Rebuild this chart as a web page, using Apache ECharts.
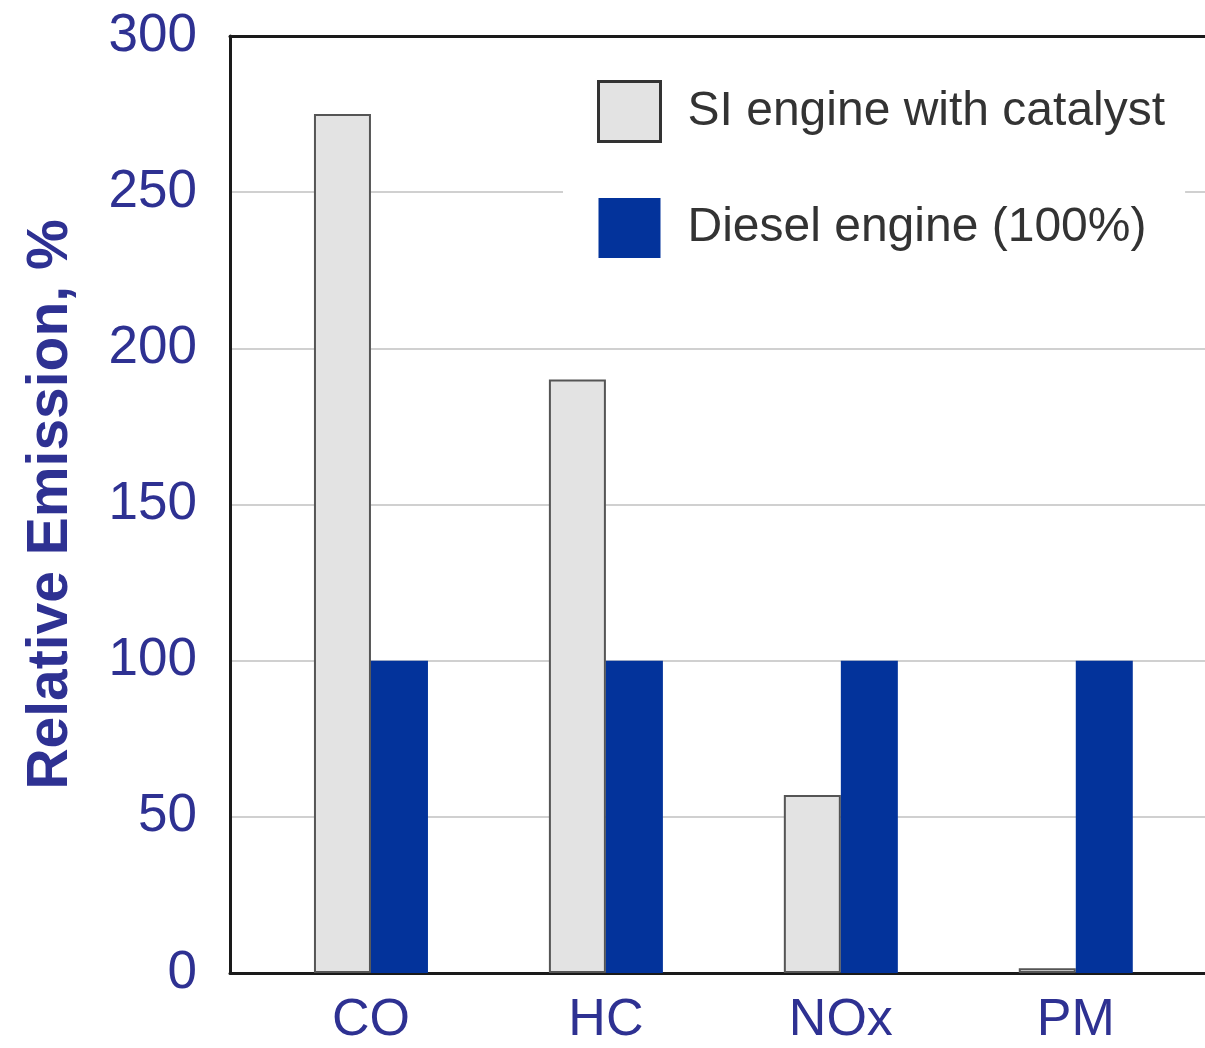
<!DOCTYPE html>
<html>
<head>
<meta charset="utf-8">
<script src="https://cdn.jsdelivr.net/npm/echarts@6/dist/echarts.min.js"></script>
<style>
  html, body { margin: 0; padding: 0; background: #fff; }
  #chart { width: 1205px; height: 1048px; }
</style>
</head>
<body>
<div id="chart"></div>
<script>
const categories = ['CO', 'HC', 'NOx', 'PM'];
const siValues = [275, 190, 57, 1.5];
const dieselValues = [100, 100, 100, 100];
const yTicks = { min: 0, max: 300, step: 50 };

const navy = '#2e3192';
const font = "'Liberation Sans', Arial, sans-serif";
// x range in category units; plot is cut off at the right edge like the source
const xMin = -0.6, xMax = 3.55;

const chart = echarts.init(document.getElementById('chart'));
chart.setOption({
  animation: false,
  backgroundColor: '#fff',
  grid: { left: 230, top: 36, bottom: 75, right: 0 },
  legend: {
    orient: 'vertical', left: 563, top: 58,
    backgroundColor: '#fff',
    padding: [22, 20, 20, 34],
    itemWidth: 62, itemHeight: 60, itemGap: 55,
    icon: 'rect',
    textStyle: { fontFamily: font, fontSize: 48, color: '#333', padding: [0, 0, 0, 22] },
    data: [
      { name: 'SI engine with catalyst', itemStyle: { borderColor: '#333', borderWidth: 3 } },
      { name: 'Diesel engine (100%)' }
    ]
  },
  xAxis: [
    {
      type: 'value', min: xMin, max: xMax,
      splitLine: { show: false },
      axisTick: { show: false },
      axisLine: { lineStyle: { color: '#1a1a1a', width: 3 } },
      axisLabel: {
        customValues: categories.map((c, i) => i),
        formatter: v => categories[Math.round(v)] || '',
        fontFamily: font, fontSize: 52, color: navy, margin: 22
      }
    },
    {
      type: 'value', min: xMin, max: xMax, position: 'top',
      splitLine: { show: false }, axisTick: { show: false }, axisLabel: { show: false },
      axisLine: { lineStyle: { color: '#1a1a1a', width: 3 } }
    }
  ],
  yAxis: {
    type: 'value', min: yTicks.min, max: yTicks.max, interval: yTicks.step,
    name: 'Relative Emission, %',
    nameLocation: 'middle', nameGap: 150,
    nameTextStyle: { fontFamily: font, fontSize: 57, fontWeight: 'bold', color: navy },
    axisLine: { show: true, onZero: false, lineStyle: { color: '#1a1a1a', width: 3 } },
    axisTick: { show: false },
    axisLabel: { fontFamily: font, fontSize: 53, color: navy, margin: 33 },
    splitLine: { lineStyle: { color: '#d0d0d0', width: 2 } }
  },
  series: [
    {
      name: 'SI engine with catalyst', type: 'bar',
      barWidth: 57, barGap: '0%',
      itemStyle: { color: '#e3e3e3', borderColor: '#555', borderWidth: 2 },
      data: siValues.map((v, i) => [i, v])
    },
    {
      name: 'Diesel engine (100%)', type: 'bar',
      barWidth: 57, barGap: '0%',
      itemStyle: { color: '#03339b' },
      data: dieselValues.map((v, i) => [i, v])
    }
  ]
});
</script>
</body>
</html>
